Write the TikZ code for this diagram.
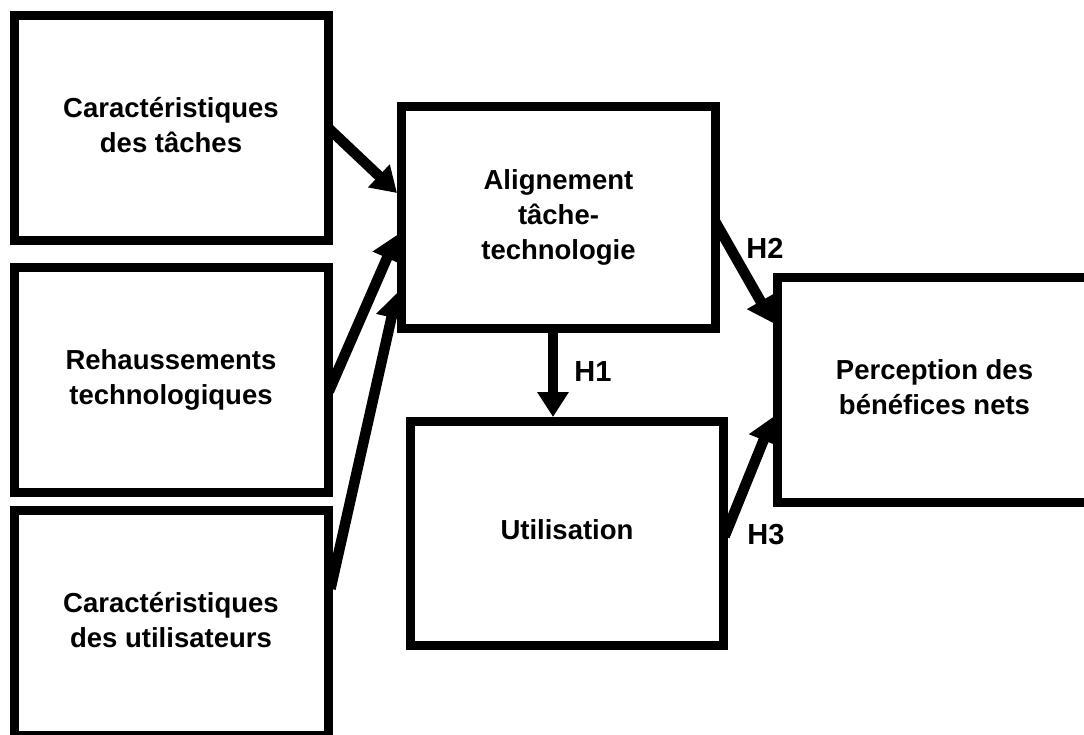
\documentclass[tikz,border=0pt]{standalone}
\usepackage{fontspec}
\setmainfont{Liberation Sans}
\usetikzlibrary{arrows.meta,calc}
\pgfdeclarelayer{bg}
\pgfsetlayers{bg,main}
\begin{document}
\begin{tikzpicture}[x=1pt,y=-1pt,
  box/.style={draw=black,line width=9pt,fill=white,rectangle,inner sep=0pt,
    minimum width=314pt,minimum height=225pt,
    font=\fontsize{27.5}{35}\selectfont\bfseries},
  arr/.style={line width=10.5pt,shorten <=-9pt,-{Triangle[width=30pt,length=25pt]}},
  hlab/.style={font=\fontsize{29}{35}\selectfont\bfseries,inner sep=0pt}]
\useasboundingbox (0,0) rectangle (1084,734);
\clip (0,0) rectangle (1084,734);
\begin{pgfonlayer}{bg}
\fill[white] (0,0) rectangle (1084,734);
\end{pgfonlayer}
\node[box] (b1) at (171,127.5) {\raisebox{8pt}{\begin{tabular}{@{}c@{}}Caractéristiques\\des tâches\end{tabular}}};
\node[box] (b2) at (171,380) {\raisebox{9pt}{\begin{tabular}{@{}c@{}}Rehaussements\\technologiques\end{tabular}}};
\node[box] (b3) at (171,623) {\raisebox{18pt}{\begin{tabular}{@{}c@{}}Caractéristiques\\des utilisateurs\end{tabular}}};
\node[box,minimum height=222pt] (al) at (558.5,217.5) {\begin{tabular}{@{}c@{}}Alignement\\tâche-\\technologie\end{tabular}};
\node[box,minimum width=313pt,minimum height=224pt] (ut) at (567,533.5) {\raisebox{8pt}{Utilisation}};
\node[box] (pe) at (934.5,389.5) {\raisebox{10pt}{\begin{tabular}{@{}c@{}}Perception des\\bénéfices nets\end{tabular}}};
% connectors (behind the boxes, so their start joins the border)
\begin{pgfonlayer}{bg}
\draw[arr] ($(b1.east)+(0,4.5)$) -- ($(al.west)+(0,-24.5)$);
\draw[arr] ($(b2.east)+(0,3)$) -- ($(al.west)+(0,17.5)$);
\draw[arr] ($(b3.east)+(0,-43)$) -- ($(al.west)+(0,75.5)$);
\coordinate (h1s) at ($(al.south)+(-5.5,0)$);
\draw[arr] (h1s) -- (h1s |- ut.north);
\draw[arr] ($(al.east)+(0,12.5)$) -- ($(pe.west)+(0,-66.5)$);
\draw[arr] ($(ut.east)+(0,-5.5)$) -- ($(pe.west)+(0,27.5)$);
\end{pgfonlayer}
% labels
\node[hlab] (lh1) at (593,372) {H1};
\node[hlab] (lh2) at (765,248) {H2};
\node[hlab] (lh3) at (766,535) {H3};
\end{tikzpicture}
\end{document}
